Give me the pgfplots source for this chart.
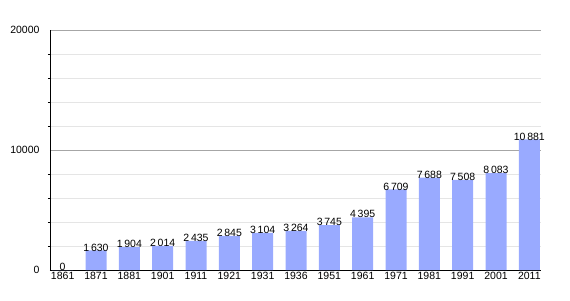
\documentclass[border=0pt]{standalone}
\usepackage{pgfplots}
\pgfplotsset{compat=1.18}
\usepackage{fontspec}
\setmainfont{Liberation Sans}
\definecolor{barc}{HTML}{99AAFF}
\begin{document}
\begin{tikzpicture}[x=1pt,y=1pt]
\useasboundingbox (0,0) rectangle (570,300);
\begin{axis}[
  at={(50pt,30pt)}, anchor=south west,
  scale only axis, width=491pt, height=240pt,
  ymin=0, ymax=20000,
  xmin=-0.38, xmax=14.35,
  axis lines*=left,
  axis line style={black, line width=0.8pt},
  ytick={0,10000,20000},
  minor ytick={2000,4000,6000,8000,12000,14000,16000,18000},
  yticklabel style={/pgf/number format/fixed, /pgf/number format/1000 sep={}, xshift=-7pt},
  scaled y ticks=false,
  ymajorgrids, yminorgrids,
  major grid style={draw=black!35, line width=0.6pt},
  minor grid style={draw=black!10, line width=0.6pt},
  major tick length=0pt, minor tick length=2pt,
  tick style={black},
  tick align=outside,
  xtick=data,
  xticklabels={1861,1871,1881,1901,1911,1921,1931,1936,1951,1961,1971,1981,1991,2001,2011},
  xtick style={draw=none},
  ticklabel style={font=\fontsize{10.5}{12}\selectfont},
  xticklabel style={yshift=1pt},
  /pgf/number format/assume math mode=true,
  ybar, bar width=21pt,
  nodes near coords,
  nodes near coords style={font=\fontsize{10.5}{12}\selectfont, anchor=south, inner sep=0pt, yshift=-1pt,
    /pgf/number format/fixed, /pgf/number format/precision=0, /pgf/number format/1000 sep={\,}},
  clip=false,
]
\addplot[fill=barc, draw=none] coordinates {
(0,0) (1,1630) (2,1904) (3,2014) (4,2435) (5,2845) (6,3104) (7,3264) (8,3745) (9,4395) (10,6709) (11,7688) (12,7508) (13,8083) (14,10881)
};
\end{axis}
\end{tikzpicture}
\end{document}
